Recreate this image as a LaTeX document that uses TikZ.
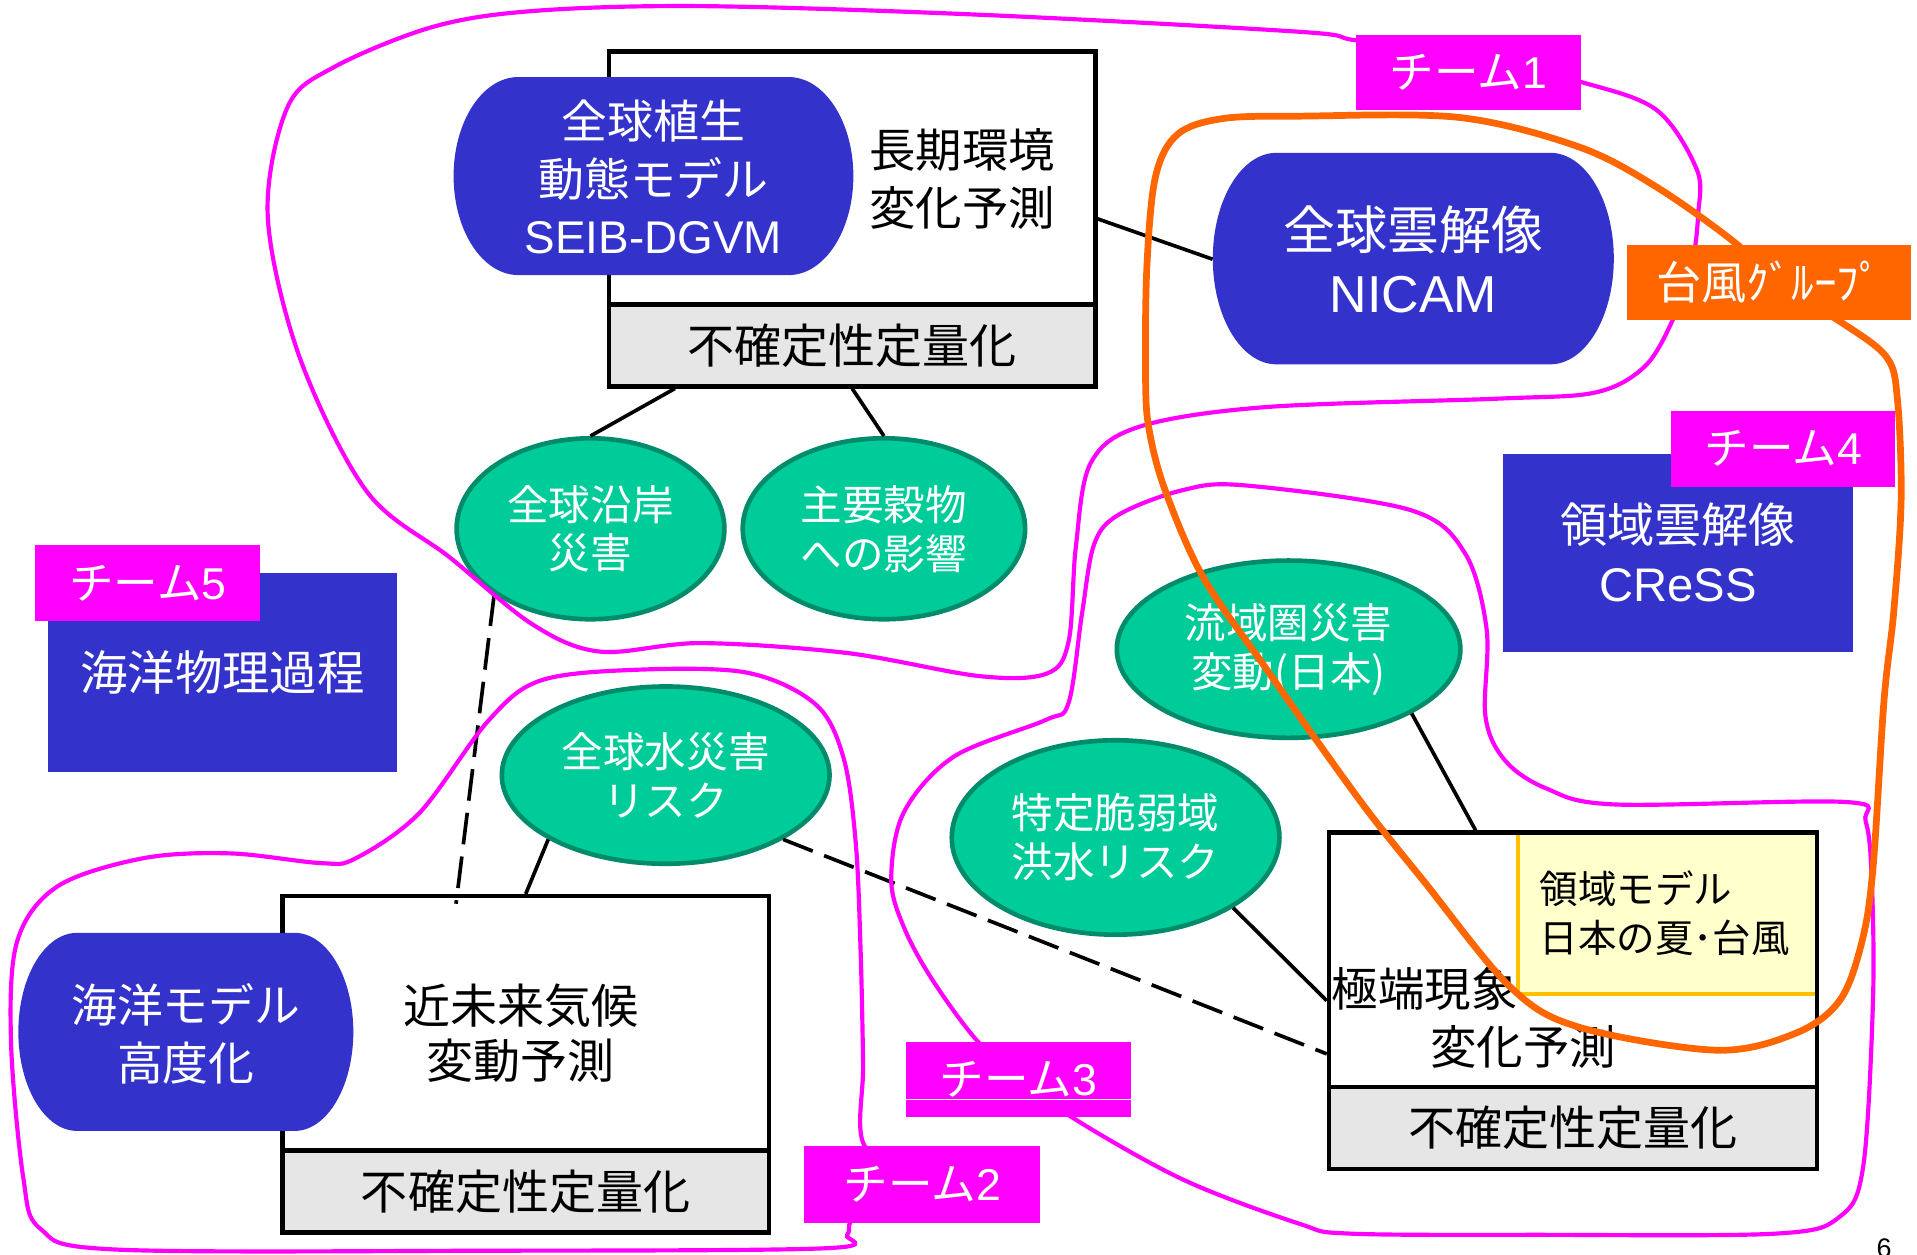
\documentclass[tikz,border=0pt]{standalone}
\usepackage{fontspec}
\setmainfont{Noto Sans CJK JP}
\newfontfamily\arialf{Liberation Sans}
\usetikzlibrary{shapes.geometric}
\definecolor{ublue}{HTML}{3333CC}
\definecolor{ugreen}{HTML}{00CC99}
\definecolor{ugreenb}{HTML}{008C6A}
\definecolor{umag}{HTML}{FF00FF}
\definecolor{uorange}{HTML}{FF6600}
\definecolor{ugray}{HTML}{E6E6E6}
\definecolor{uyellow}{HTML}{FFFFCC}
\definecolor{uyellowb}{HTML}{FFC000}
\newcommand\capsuleshape[5]{%
  \fill[ublue] (#1-#3+#5,#2-#4) -- (#1+#3-#5,#2-#4)
    arc[start angle=90,end angle=-90,x radius=#5pt,y radius=#4pt]
    -- (#1-#3+#5,#2+#4)
    arc[start angle=270,end angle=90,x radius=#5pt,y radius=#4pt] -- cycle;}
\tikzset{
  boxmain/.style={rectangle, fill=white, draw=black, line width=3.6pt, inner sep=0pt},
  uncband/.style={rectangle, fill=ugray, draw=black, line width=3.6pt, inner sep=0pt,
    font=\fontsize{38.5}{46}\selectfont},
  bigtxt/.style={align=center, inner sep=0pt, font=\fontsize{38}{47}\selectfont},
  captxt/.style={align=center, inner sep=0pt, text=white},
  bubble/.style={ellipse, fill=ugreen, draw=ugreenb, line width=3.8pt, text=white,
    align=center, inner sep=0pt, font=\fontsize{34}{40}\selectfont},
  bluebox/.style={rectangle, fill=ublue, text=white, align=center, inner sep=0pt},
  link/.style={draw=black, line width=3pt},
  dlink/.style={link, dash pattern=on 26pt off 10pt},
  teamline/.style={draw=umag, line width=3.4pt},
  tyline/.style={draw=uorange, line width=5.5pt},
  tag/.style={rectangle, fill=umag, text=white, inner sep=0pt, font=\fontsize{36.5}{40}\selectfont},
  yline/.style={draw=uyellowb, line width=3.5pt},
}
\begin{document}
\begin{tikzpicture}[x=1pt,y=-1pt]
\useasboundingbox (0,0) rectangle (1568,1026);
\clip (0,0) rectangle (1568,1026);
\fill[white] (0,0) rectangle (1568,1026);

% ---- top box
\node[boxmain, minimum width=398pt, minimum height=274pt] (topbox) at (697,179) {};
\node[uncband, minimum width=398pt, minimum height=67pt] (topunc) at (697,282.5) {不確定性定量化};
\node[bigtxt] (topttl) at (787,146.5) {長期環境\\変化予測};
\capsuleshape{534.5}{144}{163.5}{81}{53}
\node[captxt, font=\fontsize{37.5}{47}\selectfont, minimum width=327pt, minimum height=162pt] (seib) at (534.5,145) {全球植生\\動態モデル\\{\arialf SEIB-DGVM}};

% ---- NICAM
\capsuleshape{1156}{211.5}{164}{86.5}{52}
\node[captxt, font=\fontsize{42.5}{52}\selectfont, minimum width=328pt, minimum height=173pt] (nicam) at (1156,212) {全球雲解像\\{\arialf NICAM}};

% ---- bottom-left box
\node[boxmain, minimum width=398pt, minimum height=275pt] (blbox) at (430,870.5) {};
\node[uncband, minimum width=398pt, minimum height=67pt] (blunc) at (430,974.5) {不確定性定量化};
\node[bigtxt, font=\fontsize{38.5}{45.5}\selectfont] (blttl) at (426,845) {近未来気候\\変動予測};
\capsuleshape{152}{844}{137}{81}{48}
\node[captxt, font=\fontsize{37.5}{47}\selectfont, minimum width=274pt, minimum height=162pt] (ocm) at (152,845.5) {海洋モデル\\高度化};

% ---- bottom-right box
\node[boxmain, minimum width=399pt, minimum height=275pt] (brbox) at (1286.5,818.5) {};
\node[rectangle, fill=uyellow, draw=none, inner sep=0pt, minimum width=242.2pt, minimum height=130.2pt] (yel) at (1363.1,747.9) {};
\draw[yline] (yel.north west) -- (yel.south west) -- (yel.south east);
\node[uncband, minimum width=399pt, minimum height=67pt] (brunc) at (1286.5,922.5) {不確定性定量化};
\node[align=left, anchor=west, inner sep=0pt, font=\fontsize{31.5}{40}\selectfont] (yeltxt) at (1259,747) {領域モデル\\日本の夏･台風};
\node[anchor=west, inner sep=0pt, font=\fontsize{38}{47}\selectfont] (brttl1) at (1089,809) {極端現象};
\node[inner sep=0pt, font=\fontsize{38}{47}\selectfont] (brttl2) at (1246,856) {変化予測};

% ---- blue boxes
\node[bluebox, minimum width=287pt, minimum height=162pt, font=\fontsize{38.6}{48}\selectfont] (cress) at (1372.5,452) {領域雲解像\\{\arialf CReSS}};
\node[bluebox, minimum width=286pt, minimum height=163pt, font=\fontsize{38.8}{46}\selectfont] (ocphys) at (182,550) {海洋物理過程};

% ---- connectors (ellipse nodes placed first, so names exist)
\path (483,432.5) node[bubble, minimum width=219pt, minimum height=148pt] (cA) {全球沿岸\\災害};
\path (723,432.5) node[bubble, minimum width=231pt, minimum height=148pt] (cB) {主要穀物\\への影響};
\path (544.5,634) node[bubble, minimum width=268pt, minimum height=145pt] (cW) {全球水災害\\リスク};
\path (1054,531) node[bubble, minimum width=281pt, minimum height=145pt] (cR) {流域圏災害\\変動(日本)};
\path (912.5,685) node[bubble, minimum width=268pt, minimum height=159pt] (cT) {特定脆弱域\\洪水リスク};

\draw[link] ([xshift=-145pt]topunc.south) -- (cA.north);
\draw[link] (topunc.south) -- (cB.north);
\draw[link] (topbox.east) -- (nicam.west);
\draw[dlink] (cA.south west) -- ([xshift=-57pt,yshift=-8pt]blbox.north);
\draw[link] (cW.south west) -- (blbox.north);
\draw[dlink] (cW.south east) -- ([yshift=-43.5pt]brbox.west);
\draw[link] (cT.south east) -- (brbox.west);
\draw[link] (cR.south east) -- ([xshift=-79.5pt]brbox.north);

% ---- team curves
\draw[teamline] plot[smooth cycle, tension=0.55] coordinates {
 (1200,45) (1293,67) (1355,90) (1388,139) (1389,175) (1384,215) (1368,262) (1345,300)
 (1305,321) (1227,326) (1035,333) (932,349) (892,379) (880,447) (874,525) (856,551)
 (801,553) (692,534) (573,526) (491,533) (436,511) (368,456) (300,402) (245,292)
 (219,177) (235,88) (273,55) (354,22) (436,9) (573,5) (800,12) (1063,26) (1109,33)};
\draw[teamline] plot[smooth cycle, tension=0.55] coordinates {
 (755,962) (707,937) (706,870) (704,780) (700,690) (690,620) (667,576) (610,550)
 (516,548) (441,557) (399,590) (343,665) (291,702) (263,706) (188,698) (117,702)
 (47,725) (14,770) (9,852) (19,963) (33,1005) (94,1022) (400,1023) (675,1021)
 (693,1010) (700,995)};
\draw[teamline] plot[smooth cycle, tension=0.55] coordinates {
 (833,880) (799,851) (763,802) (740,760) (729,720) (739,665) (780,619) (855,589)
 (874,575) (885,502) (895,445) (915,421) (967,401) (1018,397) (1153,417) (1198,452)
 (1216,515) (1215,586) (1231,622) (1265,645) (1321,658) (1510,656) (1526,672)
 (1531,720) (1532,818) (1524,954) (1505,995) (1453,1009) (1258,1010) (1104,1009)
 (1063,1001) (968,965) (877,914)};
\draw[tyline] plot[smooth cycle, tension=0.55] coordinates {
 (1447,228) (1421,200) (1355,153) (1291,120) (1193,96) (1063,95) (1000,97) (963,110)
 (945,145) (938,220) (937,311) (940,352) (953,401) (984,472) (1035,546) (1075,603)
 (1120,665) (1164,720) (1235,807) (1291,840) (1404,859) (1469,845) (1505,818)
 (1523,770) (1532,710) (1541,573) (1549,500) (1555,409) (1552,327) (1543,292) (1505,263)};

% ---- tags
\node[tag, minimum width=184pt, minimum height=61pt] (t1) at (1201,59.5) {チーム{\arialf 1}};
\node[rectangle, fill=uorange, text=white, inner sep=0pt, minimum width=232pt, minimum height=62pt,
  font=\fontsize{37}{40}\selectfont] (tg) at (1447,231) {台風ｸﾞﾙｰﾌﾟ};
\node[tag, minimum width=183pt, minimum height=62pt] (t4) at (1458.5,367) {チーム{\arialf 4}};
\node[tag, minimum width=184pt, minimum height=62pt] (t5) at (121,477) {チーム{\arialf 5}};
\node[tag, minimum width=184pt, minimum height=62pt] (t3) at (833,883) {チーム{\arialf 3}};
\draw[white, line width=0.8pt] ([yshift=-16pt]t3.west) -- ([yshift=-16pt]t3.east);
\node[tag, minimum width=193pt, minimum height=63pt] (t2) at (754.5,968.5) {チーム{\arialf 2}};

% ---- page number
\node[anchor=north, inner sep=0pt, font=\fontsize{22}{22}\selectfont\arialf] (pnum) at (1541,1013) {6};
\end{tikzpicture}
\end{document}
